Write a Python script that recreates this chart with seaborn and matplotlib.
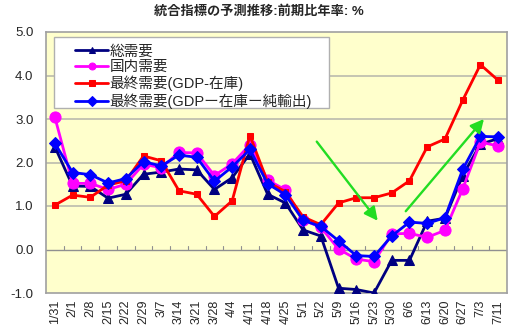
import matplotlib
matplotlib.use("Agg")
import matplotlib.pyplot as plt
import matplotlib.patches as mpatches
import seaborn as sns
import pandas as pd

sns.set_style("white")
plt.rcParams['font.family'] = ['Liberation Sans', 'Noto Sans CJK JP', 'DejaVu Sans']

title = "統合指標の予測推移:前期比年率: %"
dates = ["1/31", "2/1", "2/8", "2/15", "2/22", "2/29", "3/7", "3/14", "3/21", "3/28",
         "4/4", "4/11", "4/18", "4/25", "5/1", "5/2", "5/9", "5/16", "5/23", "5/30",
         "6/6", "6/13", "6/20", "6/27", "7/3", "7/11"]

total_demand = [2.36, 1.46, 1.45, 1.18, 1.27, 1.73, 1.78, 1.85, 1.83, 1.38,
                1.65, 2.20, 1.27, 1.07, 0.45, 0.31, -0.89, -0.92, -1.00, -0.25,
                -0.25, 0.65, 0.72, 1.70, 2.42, 2.55]
domestic_demand = [3.04, 1.52, 1.52, 1.38, 1.50, 1.96, 1.88, 2.23, 2.22, 1.70,
                   1.97, 2.41, 1.60, 1.37, 0.68, 0.51, 0.01, -0.22, -0.28, 0.36,
                   0.37, 0.28, 0.44, 1.39, 2.47, 2.38]
final_demand = [1.02, 1.25, 1.20, 1.48, 1.58, 2.15, 2.04, 1.35, 1.27, 0.76,
                1.12, 2.62, 1.55, 1.33, 0.75, 0.57, 1.07, 1.19, 1.19, 1.30,
                1.58, 2.36, 2.54, 3.43, 4.25, 3.89]
final_demand_ex = [2.44, 1.77, 1.72, 1.53, 1.63, 2.02, 1.92, 2.17, 2.12, 1.57,
                   1.90, 2.30, 1.51, 1.26, 0.67, 0.53, 0.20, -0.14, -0.16, 0.31,
                   0.63, 0.60, 0.73, 1.84, 2.60, 2.59]

labels = ["総需要", "国内需要", "最終需要(GDP-在庫)", "最終需要(GDPー在庫ー純輸出)"]
colors = ["#000080", "#ff00ff", "#ff0000", "#0000ff"]
markers = ["^", "o", "s", "D"]
msizes = [7, 8, 5, 6]

yticks = [-1.0, 0.0, 1.0, 2.0, 3.0, 4.0, 5.0]

# green trend arrows (start x, start y, end x, end y) in category-index / value units
arrow_down = [14.77, 2.48, 18.21, 0.66]
arrow_up = [19.79, 0.88, 24.2, 3.0]

series = [total_demand, domestic_demand, final_demand, final_demand_ex]
df = pd.DataFrame({"x": list(range(len(dates))) * 4,
                   "v": sum(series, []),
                   "s": sum([[l] * len(dates) for l in labels], [])})

fig = plt.figure(figsize=(5.17, 3.36), dpi=100)
ax = fig.add_axes([46 / 517, 1 - 293 / 336, 461 / 517, 261 / 336])
ax.set_facecolor("#ffffcc")

for y in [1, 2, 3, 4]:
    ax.axhline(y, color="#c0c0b0", lw=1.3, zorder=0)
ax.axhline(0, color="#909090", lw=1.0, zorder=0)
for i in range(len(dates) - 1):
    ax.plot([i + 0.5, i + 0.5], [0, 0.07], color="#909090", lw=0.8, zorder=0)

for lab, col, mk, ms in zip(labels, colors, markers, msizes):
    sns.lineplot(data=df[df["s"] == lab], x="x", y="v", ax=ax, color=col,
                 marker=mk, markersize=ms, markeredgecolor=col, lw=2.0,
                 label=lab, zorder=3)

for a in [arrow_down, arrow_up]:
    ax.annotate("", xy=(a[2], a[3]), xytext=(a[0], a[1]),
                arrowprops=dict(arrowstyle="-|>", color="#22dd22", lw=1.7,
                                mutation_scale=20, shrinkA=0, shrinkB=0), zorder=4)

ax.set_xlim(-0.5, len(dates) - 0.5)
ax.set_ylim(-1, 5)
ax.set_xticks(range(len(dates)))
ax.set_xticklabels(dates, rotation=90, fontsize=9)
ax.set_yticks(yticks)
ax.set_yticklabels([f"{v:.1f}" for v in yticks], fontsize=9.5)
ax.tick_params(axis="both", length=0)
ax.tick_params(axis="y", pad=9)
ax.tick_params(axis="x", pad=5)
ax.set_xlabel("")
ax.set_ylabel("")
for sp in ax.spines.values():
    sp.set_color("#a0a0a0")
    sp.set_linewidth(1.2)

# legend box (white, gray border) drawn as a patch, legend entries on top
x0, x1 = (54 - 46) / 461, (329 - 46) / 461
yb, yt = (293 - 108) / 261, (293 - 37) / 261
ax.add_patch(mpatches.Rectangle((x0, yb), x1 - x0, yt - yb, transform=ax.transAxes,
                                facecolor="white", edgecolor="#b0b0b0", lw=1.0,
                                zorder=5))
leg = ax.legend(loc="upper left", bbox_to_anchor=((74 - 46) / 461, (293 - 43) / 261),
                borderaxespad=0, fontsize=10.5, frameon=False, handlelength=2.2,
                labelspacing=0.12, handletextpad=0.15, borderpad=0.1)
leg.set_zorder(6)
for h in leg.legend_handles:
    h.set_markersize(5)

fig.text(0.5, 1 - 12 / 336, title, ha="center", va="center",
         fontsize=9.5, fontweight="bold")

fig.savefig("out.png", dpi=100, facecolor="white")
